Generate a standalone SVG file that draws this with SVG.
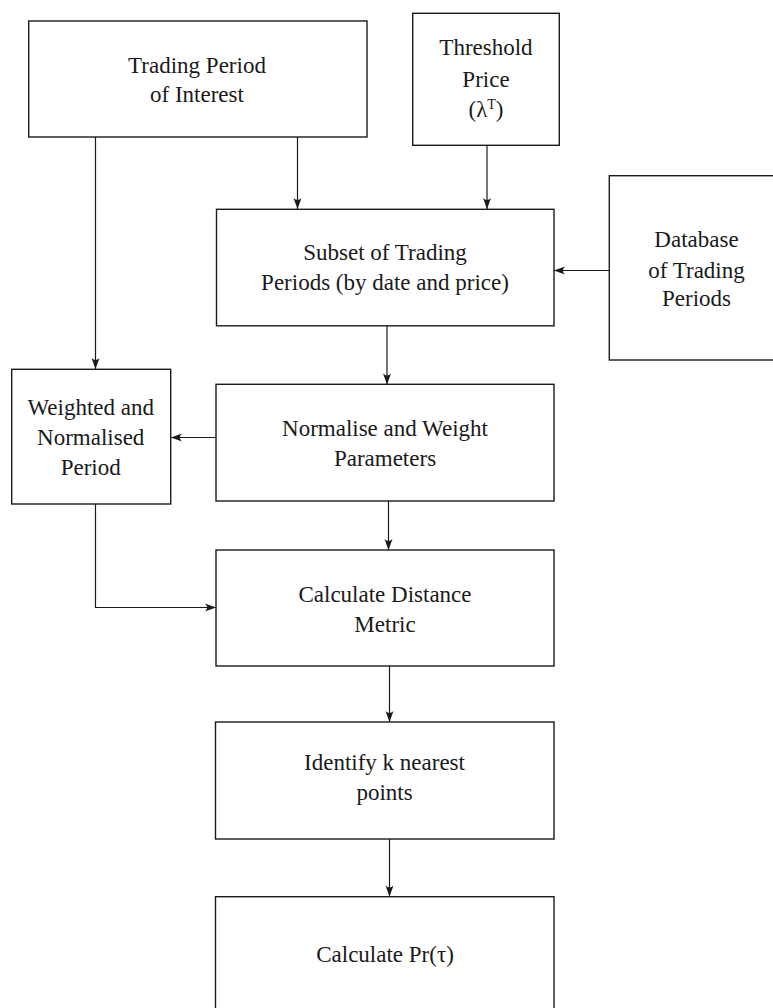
<svg xmlns="http://www.w3.org/2000/svg" width="773" height="1008" viewBox="0 0 773 1008">
  <style>
    .box { fill: #ffffff; stroke: #1a1a1a; stroke-width: 1.4; }
    text { font-family: 'Liberation Serif', 'Times New Roman', Times, serif; font-size: 23px; fill: #1a1a1a; text-anchor: middle; }
    .sup { font-size: 14px; }
    .edge { fill: none; stroke: #1a1a1a; stroke-width: 1.2; marker-end: url(#arrow); }
  </style>
  <defs>
    <marker id="arrow" markerUnits="userSpaceOnUse" markerWidth="14" markerHeight="10" viewBox="-12 -5 13 10" refX="0" refY="0" orient="auto">
      <path d="M0,0 L-11,-4 Q-7,0 -11,4 Z" fill="#1a1a1a"/>
    </marker>
  </defs>
  <rect width="773" height="1008" fill="#ffffff"/>

  <!-- connectors -->
  <g id="connectors">
    <path class="edge" d="M95.5,137 V369"/>
    <path class="edge" d="M297.5,137 V209"/>
    <path class="edge" d="M487,145.5 V209"/>
    <path class="edge" d="M609.5,270.5 H554"/>
    <path class="edge" d="M387,326 V384.5"/>
    <path class="edge" d="M216,437.5 H171"/>
    <path class="edge" d="M388.5,501 V550"/>
    <path class="edge" d="M95.5,504 V607.5 H216"/>
    <path class="edge" d="M389.5,666 V722"/>
    <path class="edge" d="M389.5,839 V896.5"/>
  </g>

  <g id="trading-period" font-family="Liberation Serif, serif">
    <rect class="box" x="28.7" y="21" width="338.3" height="116"/>
    <text x="197" y="72.5">Trading Period</text>
    <text x="197" y="101.5">of Interest</text>
  </g>

  <g id="threshold-price">
    <rect class="box" x="412.7" y="13.3" width="146.6" height="132"/>
    <text x="486" y="55">Threshold</text>
    <text x="486" y="86.5">Price</text>
    <text x="486" y="116.5">(λ<tspan class="sup" dy="-8">T</tspan><tspan dy="8">)</tspan></text>
  </g>

  <g id="subset">
    <rect class="box" x="216.5" y="209.3" width="337.5" height="116.5"/>
    <text x="385" y="260">Subset of Trading</text>
    <text x="385" y="290">Periods (by date and price)</text>
  </g>

  <g id="database">
    <rect class="box" x="609.3" y="175.7" width="180" height="184.3"/>
    <text x="696.5" y="246.5">Database</text>
    <text x="696.5" y="277.5">of Trading</text>
    <text x="696.5" y="306">Periods</text>
  </g>

  <g id="weighted-period">
    <rect class="box" x="11.7" y="369.3" width="159" height="134.7"/>
    <text x="90.7" y="415">Weighted and</text>
    <text x="90.7" y="445">Normalised</text>
    <text x="90.7" y="475">Period</text>
  </g>

  <g id="normalise">
    <rect class="box" x="216" y="384.3" width="338" height="116.7"/>
    <text x="385" y="436">Normalise and Weight</text>
    <text x="385" y="466">Parameters</text>
  </g>

  <g id="distance">
    <rect class="box" x="216" y="550" width="338" height="116"/>
    <text x="385" y="601.5">Calculate Distance</text>
    <text x="385" y="631.5">Metric</text>
  </g>

  <g id="nearest">
    <rect class="box" x="215.5" y="722" width="338.5" height="117"/>
    <text x="384.5" y="770">Identify k nearest</text>
    <text x="384.5" y="800">points</text>
  </g>

  <g id="probability">
    <rect class="box" x="215.5" y="896.7" width="338.5" height="130"/>
    <text x="385" y="961.5">Calculate Pr(τ)</text>
  </g>
</svg>
